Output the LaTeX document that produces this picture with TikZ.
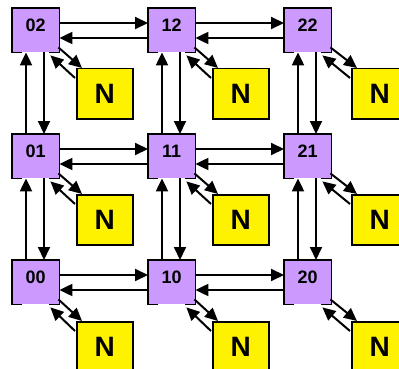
\documentclass[tikz,border=0pt]{standalone}
\usepackage{fontspec}
\setmainfont{Liberation Sans}
\usetikzlibrary{arrows.meta,calc}
\definecolor{rpurple}{HTML}{CC99FF}
\begin{document}
\begin{tikzpicture}[x=1pt,y=-1pt,
  router/.style={fill=rpurple, draw=none, minimum width=47pt, minimum height=44pt, inner sep=0pt,
    font=\bfseries\fontsize{18}{18}\selectfont, text depth=10pt, anchor=north west},
  nbox/.style={fill=yellow, draw=black, line width=1.5pt, minimum width=56pt, minimum height=50pt,
    inner sep=0pt, font=\bfseries\fontsize{28}{28}\selectfont, anchor=north west},
  link/.style={line width=2pt, -{Triangle[length=13pt,width=12pt]}},
  rborder/.style={line width=1.5pt}]
\useasboundingbox (0,0) rectangle (399,369);
% routers
\foreach \c/\x in {0/12,1/148,2/284}{
  \foreach \r/\y in {0/260,1/134,2/8}{
    \node[router] (r\c\r) at (\x,\y) {\c\r};
  }
}
% N boxes
\foreach \c/\x in {0/76,1/212,2/351}{
  \foreach \r/\y in {0/321,1/194,2/68}{
    \node[nbox] (n\c\r) at (\x,\y) {N};
  }
}
% router borders (bottom edge open in the middle)
\foreach \c in {0,1,2}{
  \foreach \r in {0,1,2}{
    \draw[rborder] ($(r\c\r.south west)+(10,0)$) -- (r\c\r.south west) -- (r\c\r.north west)
      -- (r\c\r.north east) -- (r\c\r.south east) -- ($(r\c\r.south east)+(-10,0)$);
  }
}
% horizontal links
\foreach \a/\b in {0/1,1/2}{
  \foreach \r in {0,1,2}{
    \draw[link] ($(r\a\r.north east)+(0,15)$) -- ($(r\b\r.north west)+(0,15)$);
    \draw[link] ($(r\b\r.north west)+(0,30)$) -- ($(r\a\r.north east)+(0,30)$);
  }
}
% vertical links
\foreach \lo/\up in {0/1,1/2}{
  \foreach \c in {0,1,2}{
    \draw[link] ($(r\c\lo.north west)+(14,0)$) -- ($(r\c\up.south west)+(14,0)$);
    \draw[link] ($(r\c\up.south west)+(32,0)$) -- ($(r\c\lo.north west)+(32,0)$);
  }
}
% router <-> N links
\foreach \c in {0,1,2}{
  \foreach \r in {0,1,2}{
    \draw[link] ($(r\c\r.south east)+(-1,-5)$) -- ($(n\c\r.north west)+(6,0)$);
    \draw[link] ($(n\c\r.north west)+(-1,10)$) -- ($(r\c\r.south east)+(-9,3)$);
  }
}
\end{tikzpicture}
\end{document}
